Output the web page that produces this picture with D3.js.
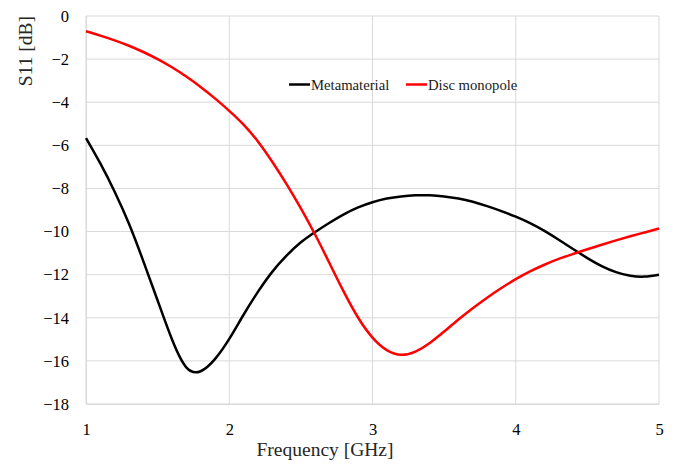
<!DOCTYPE html>
<html>
<head>
<meta charset="utf-8">
<script src="https://cdn.jsdelivr.net/npm/d3@7"></script>
<style>
  body { margin: 0; background: #fff; }
  svg text { font-family: "Liberation Serif", "Times New Roman", serif; }
</style>
</head>
<body>
<div id="chart"></div>
<script>
// Frequency samples [GHz], shared by both series
const freq = [1.0, 1.1, 1.2, 1.3, 1.4, 1.5, 1.6, 1.7, 1.8, 1.9,
              2.0, 2.1, 2.2, 2.3, 2.4, 2.5, 2.6, 2.7, 2.8, 2.9,
              3.0, 3.1, 3.2, 3.3, 3.4, 3.5, 3.6, 3.7, 3.8, 3.9,
              4.0, 4.1, 4.2, 4.3, 4.4, 4.5, 4.6, 4.7, 4.8, 4.9, 5.0];

const metaS11 = [-5.66, -6.84, -8.15, -9.64, -11.37, -13.2, -15.0, -16.3, -16.48, -15.92,
                 -14.98, -13.86, -12.8, -11.87, -11.12, -10.5, -10.02, -9.59, -9.2, -8.88,
                 -8.64, -8.47, -8.37, -8.32, -8.32, -8.37, -8.47, -8.62, -8.82, -9.05,
                 -9.31, -9.61, -9.97, -10.38, -10.81, -11.23, -11.6, -11.88, -12.05, -12.09, -12.0];

const discS11 = [-0.71, -0.91, -1.13, -1.38, -1.67, -2.0, -2.38, -2.81, -3.29, -3.82,
                 -4.4, -5.04, -5.82, -6.76, -7.8, -8.93, -10.15, -11.47, -12.8, -14.0,
                 -14.92, -15.5, -15.72, -15.57, -15.17, -14.64, -14.08, -13.56, -13.07, -12.62,
                 -12.21, -11.85, -11.54, -11.27, -11.04, -10.82, -10.61, -10.41, -10.22, -10.04, -9.86];

const xTicks = [1, 2, 3, 4, 5];
const yTicks = [0, -2, -4, -6, -8, -10, -12, -14, -16, -18];

const seriesNames = ['Metamaterial', 'Disc monopole'];
const seriesColors = ['#000000', '#ff0000'];

const width = 677, height = 468;
const margin = { top: 16, right: 18, bottom: 64, left: 86 };
const chartWidth = width - margin.left - margin.right;
const chartHeight = height - margin.top - margin.bottom;
const serif = '"Liberation Serif", "Times New Roman", serif';

const svg = d3.select('#chart').append('svg')
    .attr('width', width)
    .attr('height', height);

const x = d3.scaleLinear().domain([1, 5]).range([0, chartWidth]);
const y = d3.scaleLinear().domain([-18, 0]).range([chartHeight, 0]);

const g = svg.append('g')
    .attr('transform', `translate(${margin.left}, ${margin.top})`);

// grid lines
g.append('g')
    .selectAll('line')
    .data(yTicks)
    .enter().append('line')
    .attr('x1', 0).attr('x2', chartWidth)
    .attr('y1', d => y(d)).attr('y2', d => y(d))
    .style('stroke', '#d9d9d9')
    .style('stroke-width', 1);

g.append('g')
    .selectAll('line')
    .data(xTicks)
    .enter().append('line')
    .attr('x1', d => x(d)).attr('x2', d => x(d))
    .attr('y1', 0).attr('y2', chartHeight)
    .style('stroke', '#d9d9d9')
    .style('stroke-width', 1);

// axes
const xAxis = g.append('g')
    .attr('transform', `translate(0, ${chartHeight})`)
    .call(d3.axisBottom(x).tickValues(xTicks).tickSize(0).tickPadding(19).tickFormat(d3.format('d')));
xAxis.attr('font-family', serif);
xAxis.select('.domain').style('stroke', '#d9d9d9');
xAxis.selectAll('text')
    .attr('font-family', serif)
    .style('font-size', '16.5px')
    .style('fill', '#000');

const yAxis = g.append('g')
    .call(d3.axisLeft(y).tickValues(yTicks).tickSize(0).tickPadding(17).tickFormat(d3.format('d')));
yAxis.attr('font-family', serif);
yAxis.select('.domain').style('stroke', '#d9d9d9');
yAxis.selectAll('text')
    .attr('font-family', serif)
    .style('font-size', '16.5px')
    .style('fill', '#000');

// curves (smooth spline through the sampled points)
const line = d3.line()
    .x(d => x(d[0]))
    .y(d => y(d[1]))
    .curve(d3.curveNatural);

const series = [d3.zip(freq, metaS11), d3.zip(freq, discS11)];

series.forEach((pts, i) => {
    g.append('path')
        .datum(pts)
        .attr('d', line)
        .style('fill', 'none')
        .style('stroke', seriesColors[i])
        .style('stroke-width', 2.5)
        .style('stroke-linejoin', 'round');
});

// legend
const legendX = [289, 406];
const legendY = 84.5;
seriesNames.forEach((name, i) => {
    svg.append('line')
        .attr('x1', legendX[i]).attr('x2', legendX[i] + 21)
        .attr('y1', legendY).attr('y2', legendY)
        .style('stroke', seriesColors[i])
        .style('stroke-width', 2.5);
    svg.append('text')
        .attr('x', legendX[i] + 22)
        .attr('y', legendY + 5)
        .attr('font-family', serif)
        .style('font-size', '14.7px')
        .style('fill', '#1a1a1a')
        .text(name);
});

// axis titles
svg.append('text')
    .attr('x', 325)
    .attr('y', 456)
    .attr('text-anchor', 'middle')
    .attr('font-family', serif)
    .style('font-size', '19.5px')
    .style('fill', '#262626')
    .text('Frequency [GHz]');

svg.append('text')
    .attr('transform', 'rotate(-90)')
    .attr('x', -51)
    .attr('y', 32)
    .attr('text-anchor', 'middle')
    .attr('font-family', serif)
    .style('font-size', '19.5px')
    .style('fill', '#262626')
    .text('S11 [dB]');
</script>
</body>
</html>
